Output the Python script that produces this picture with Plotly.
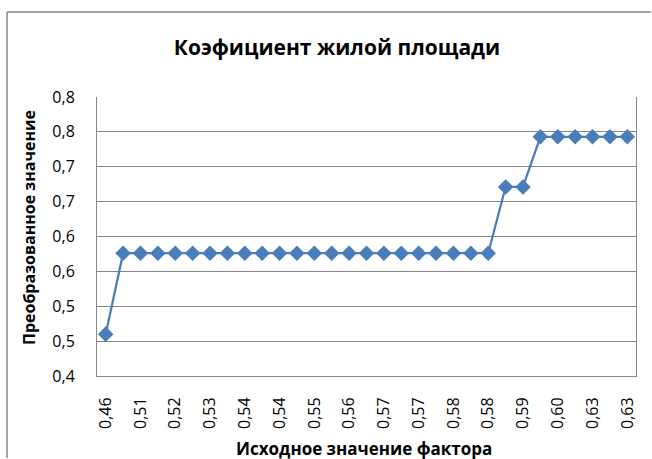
import plotly.graph_objects as go

# исходные значения фактора (подписи категорий)
factor_labels = ["0,46", "0,50", "0,51", "0,51", "0,52", "0,52", "0,53", "0,53",
                 "0,54", "0,54", "0,54", "0,54", "0,55", "0,55", "0,56", "0,56",
                 "0,57", "0,57", "0,57", "0,57", "0,58", "0,58", "0,58", "0,58",
                 "0,59", "0,59", "0,60", "0,61", "0,63", "0,63", "0,63"]

# преобразованные значения
transformed = [0.460] + [0.576] * 22 + [0.671] * 2 + [0.743] * 6

y_ticks = [0.40, 0.45, 0.50, 0.55, 0.60, 0.65, 0.70, 0.75, 0.80]
y_tick_text = ["0,4", "0,5", "0,5", "0,6", "0,6", "0,7", "0,7", "0,8", "0,8"]

idx = list(range(len(factor_labels)))

W, H = 652, 459
L, R, T, B = 97, 16, 97, 83
pw, ph = W - L - R, H - T - B


def px(x):  # пиксели -> paper
    return (x - L) / pw


def py(y):
    return (H - B - y) / ph


fig = go.Figure()
fig.add_trace(go.Scatter(
    x=idx, y=transformed, mode="lines+markers",
    line=dict(color="#4A7EBB", width=2.25),
    marker=dict(symbol="diamond", size=12, color="#4A7EBB"),
    showlegend=False,
))

grid = "#868686"
fig.update_layout(
    width=W, height=H,
    margin=dict(l=L, r=R, t=T, b=B),
    paper_bgcolor="white", plot_bgcolor="white",
    font=dict(family="Open Sans", color="black"),
    title=dict(text="<b>Коэфициент жилой площади</b>", x=337 / W, xanchor="center",
               y=1 - 48 / H, yanchor="middle", font=dict(size=21)),
)
fig.update_xaxes(
    range=[-0.5, len(idx) - 0.5],
    tickvals=idx[::2], ticktext=factor_labels[::2],
    tickangle=-90, tickfont=dict(size=16),
    showgrid=False, showline=True, linecolor=grid, linewidth=1,
    ticks="outside", ticklen=0, ticklabelstandoff=14,
    zeroline=False,
)
fig.update_yaxes(
    range=[0.4, 0.8], tickvals=y_ticks, ticktext=y_tick_text,
    tickfont=dict(size=16),
    showgrid=True, gridcolor=grid, gridwidth=1,
    showline=True, linecolor=grid, linewidth=1, mirror=True,
    ticks="outside", ticklen=0, ticklabelstandoff=18,
    zeroline=False,
)

# подписи осей
fig.add_annotation(text="<b>Исходное значение фактора</b>", xref="paper", yref="paper",
                   x=px(364), y=py(448), xanchor="center", yanchor="middle",
                   showarrow=False, font=dict(size=17))
fig.add_annotation(text="<b>Преобразованное значение</b>", xref="paper", yref="paper",
                   x=px(29), y=py(228), xanchor="center", yanchor="middle",
                   textangle=-90, showarrow=False, font=dict(size=16))

# рамка диаграммы (левая и верхняя стороны видны)
border = dict(color="#878787", width=1.5)
fig.add_shape(type="line", xref="paper", yref="paper",
              x0=px(7), x1=px(7), y0=py(458), y1=py(12), line=border)
fig.add_shape(type="line", xref="paper", yref="paper",
              x0=px(7), x1=px(651), y0=py(12), y1=py(12), line=border)

fig.write_html("out.html", config={"displayModeBar": False},
               post_script="document.body.style.margin='0';")
